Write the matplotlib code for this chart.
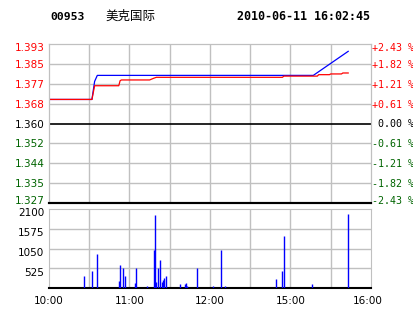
import matplotlib
matplotlib.use("Agg")
import matplotlib.pyplot as plt
from matplotlib.transforms import ScaledTranslation

# Данные: минуты от открытия (10:00), торговый день = 240 минут
prev_close = 1.360

price_min = [0, 32, 34, 36, 197, 223]
price_val = [1.370, 1.370, 1.3775, 1.380, 1.380, 1.390]

avg_min = [0, 32, 34, 52, 53, 54, 75, 78, 80, 174, 175, 200, 201, 209, 210, 218, 219, 223]
avg_val = [1.370, 1.370, 1.3757, 1.3757, 1.3778, 1.3781, 1.3781, 1.3788, 1.3792, 1.3792,
           1.3797, 1.3797, 1.3803, 1.3803, 1.3806, 1.3806, 1.3810, 1.3810]

vol_min = [26, 32, 36, 52, 53, 55, 57, 64, 65, 73, 78, 79, 80, 81, 83, 84, 85, 86, 87,
           98, 101, 102, 103, 110, 122, 128, 131, 169, 174, 175, 196, 223]
vol_val = [327, 442, 912, 176, 620, 540, 327, 141, 540, 61, 1019, 1950, 149, 540, 753, 149,
           202, 255, 327, 114, 114, 141, 61, 540, 61, 1019, 61, 247, 460, 1373, 114, 1976]

price_labels = ["1.327", "1.335", "1.344", "1.352", "1.360", "1.368", "1.377", "1.385", "1.393"]
pct_labels = ["-2.43 %", "-1.82 %", "-1.21 %", "-0.61 %", " 0.00 %", "+0.61 %", "+1.21 %", "+1.82 %", "+2.43 %"]
vol_ticks = [525, 1050, 1575, 2100]
vol_labels = ["525", "1050", "1575", "2100"]
time_ticks = [0, 60, 120, 180, 240]
time_labels = ["10:00", "11:00", "12:00", "15:00", "16:00"]

RED = "#ff0000"
GREEN = "#006400"
GRID = "#c0c0c0"

W, H = 414, 314
fig = plt.figure(figsize=(W / 100, H / 100), dpi=100)


def shift(label, dx_px, dy_px):
    """Сдвиг подписи на несколько пикселей."""
    label.set_transform(label.get_transform() + ScaledTranslation(dx_px / 100, dy_px / 100, fig.dpi_scale_trans))


# Верхняя панель - цена
ax = fig.add_axes([49 / W, 1 - 203 / H, 322 / W, 159 / H])
lo = prev_close * (1 - 0.0243)
hi = prev_close * (1 + 0.0243)
ax.set_xlim(0, 240)
ax.set_ylim(lo, hi)

step = (hi - lo) / 8
for i in range(1, 8):
    if i != 4:
        ax.axhline(lo + i * step, color=GRID, lw=1.0, zorder=1)
for m in range(30, 240, 30):
    ax.axvline(m, color=GRID, lw=1.0, zorder=1)
ax.axhline(prev_close, color="black", lw=1.2, zorder=2)

ax.plot(price_min, price_val, color="#0000ff", lw=0.9, zorder=3)
ax.plot(avg_min, avg_val, color=RED, lw=0.9, zorder=4)

ticks_pos = [lo + i * step for i in range(9)]
ax.set_yticks(ticks_pos)
ax.set_yticklabels(price_labels, fontsize=7.5, family="DejaVu Sans")
colors = [GREEN] * 4 + ["black"] + [RED] * 4
for lbl, c in zip(ax.get_yticklabels(), colors):
    lbl.set_color(c)
ax.tick_params(axis="y", length=0, pad=3.4)
ax.set_xticks([])

ax2 = ax.twinx()
ax2.set_ylim(lo, hi)
ax2.set_yticks(ticks_pos)
ax2.set_yticklabels(pct_labels, fontsize=7.2, family="DejaVu Sans Mono")
for lbl, c in zip(ax2.get_yticklabels(), colors):
    lbl.set_color(c)
ax2.tick_params(axis="y", length=0, pad=0.5)

# крайние подписи прижаты внутрь панели
for a in (ax, ax2):
    lbls = a.get_yticklabels()
    shift(lbls[0], 0, 3)
    shift(lbls[-1], 0, -3)
    for s in ("left", "top", "right"):
        a.spines[s].set_color(GRID)
    a.spines["bottom"].set_color("black")
    a.spines["bottom"].set_linewidth(1.5)

# Нижняя панель - объём
vx = fig.add_axes([49 / W, 1 - 288 / H, 322 / W, 79 / H])
vx.set_xlim(0, 240)
vx.set_ylim(0, 2100)
for v in vol_ticks[:-1]:
    vx.axhline(v, color=GRID, lw=1.0, zorder=1)
for m in range(30, 240, 30):
    vx.axvline(m, color=GRID, lw=1.0, zorder=1)
vx.vlines(vol_min, 0, vol_val, color="#0000ff", lw=1.0, zorder=3)

vx.set_yticks(vol_ticks)
vx.set_yticklabels(vol_labels, fontsize=7.5)
vx.tick_params(axis="y", length=0, pad=3.4)
for lbl in vx.get_yticklabels():
    shift(lbl, 0, -3.5)
vx.set_xticks(time_ticks)
vx.set_xticklabels(time_labels, fontsize=7.5)
vx.tick_params(axis="x", length=0, pad=5.5)
shift(vx.get_xticklabels()[-1], -3, 0)
for s in ("left", "top", "right"):
    vx.spines[s].set_color(GRID)
vx.spines["bottom"].set_color("black")
vx.spines["bottom"].set_linewidth(1.5)

# Заголовок
fig.text(50 / W, 1 - 16.5 / H, "00953", fontsize=8.2, family="DejaVu Sans Mono",
         weight="bold", va="center", ha="left")
fig.text(105 / W, 1 - 16.5 / H, "美克国际", fontsize=9, family=["Noto Sans CJK SC", "DejaVu Sans"],
         va="center", ha="left")
fig.text(237 / W, 1 - 16.5 / H, "2010-06-11 16:02:45", fontsize=8.4, family="DejaVu Sans Mono",
         weight="bold", va="center", ha="left")

fig.savefig("out.png", dpi=100, facecolor="white")
